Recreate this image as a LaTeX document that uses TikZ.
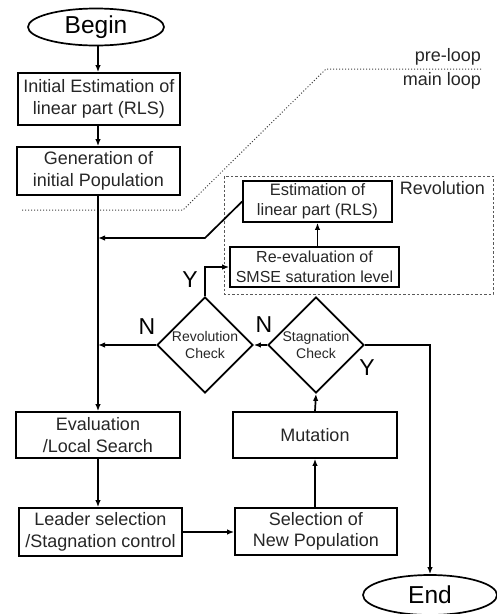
\documentclass[tikz,border=0pt]{standalone}
\usepackage{fontspec}
\setmainfont{Liberation Sans}
\usetikzlibrary{shapes.geometric,arrows.meta,calc}
\begin{document}
\begin{tikzpicture}[x=1pt,y=-1pt,
  line width=1.7pt,
  txt/.style={font=\fontsize{18}{21.5}\selectfont,text=black!85},
  procbox/.style={draw,txt,align=center,inner sep=0pt,line width=1.7pt},
  term/.style={draw,ellipse,inner sep=0pt,minimum width=136pt,minimum height=37pt,font=\fontsize{24.5}{28}\selectfont},
  check/.style={draw,diamond,inner sep=0pt,minimum width=96pt,minimum height=96pt,align=center,font=\fontsize{14}{17.5}\selectfont,text=black!85},
  yn/.style={font=\fontsize{23}{26}\selectfont},
  arr/.style={-{Latex[length=7pt,width=5.5pt]}},
  divider/.style={dotted,line width=1pt,black!75},
  revbox/.style={dashed,line width=0.8pt,black!65,dash pattern=on 2.5pt off 2pt}
]
\useasboundingbox (0,0) rectangle (497,614);

% region markers
\draw[revbox] (224,176) rectangle (493,294);
\node[txt,anchor=east] (revlbl) at (489,188) {Revolution};
\draw[divider] (22,210) -- (183,210) -- (326,69) -- (483,69);
\node[txt,anchor=east] (pre) at (485,57) {pre-loop};
\node[txt,anchor=east] (mainl) at (485,81) {main loop};

% nodes
\node[term] (begin) at (96,27) {Begin};
\node[procbox,minimum width=162pt,minimum height=52pt] (init) at (99,99) {Initial Estimation of\\linear part (RLS)};
\node[procbox,minimum width=163pt,minimum height=48pt] (gen) at (98.5,171) {Generation of\\initial Population};
\node[procbox,minimum width=149pt,minimum height=41pt,font=\fontsize{16.5}{20}\selectfont] (est) at (317.5,201.5) {Estimation of\\linear part (RLS)};
\node[procbox,minimum width=169pt,minimum height=40pt,font=\fontsize{16}{19.5}\selectfont] (reeval) at (314.5,267) {Re-evaluation of\\SMSE saturation level};
\node[check] (rev) at (205,345) {Revolution\\Check};
\node[check] (stag) at (316,345) {Stagnation\\Check};
\node[procbox,minimum width=164pt,minimum height=46pt] (eval) at (98,435) {Evaluation\\/Local Search};
\node[procbox,minimum width=163pt,minimum height=48pt] (leader) at (100.5,532) {Leader selection\\/Stagnation control};
\node[procbox,minimum width=164pt,minimum height=46pt] (mut) at (315,435) {Mutation};
\node[procbox,minimum width=162pt,minimum height=47pt] (sel) at (316,531.5) {Selection of\\New Population};
\node[term,minimum width=134pt,minimum height=40pt] (end) at (430,595) {End};

\coordinate (mx) at (98,0);
\coordinate (j1) at (98,238);
\coordinate (j2) at (98,345);
\coordinate (bend) at (205,238);

% connectors
\draw[arr] (begin.south -| mx) -- (init.north -| mx);
\draw[arr] (init.south -| mx) -- (gen.north -| mx);
\draw[arr] (gen.south -| mx) -- (eval.north -| mx);
\draw[arr] (eval.south -| mx) -- (leader.north -| mx);
\draw[arr] (est.west) -- (bend) -- (j1);
\draw[arr] (rev.west) -- (j2);
\draw[arr] (stag.west) -- (rev.east);
\draw[arr] (rev.north) |- (reeval.west);
\draw[arr] (reeval.north -| est.south) -- (est.south);
\draw[arr] (stag.east) -| (end.north);
\draw[arr] (leader.east) -- (sel.west |- leader.east);
\draw[arr] (sel.north -| mut.north) -- (mut.south);
\draw[arr] (mut.north) -- (stag.south);

% labels
\node[yn] (n1) at (147,327) {N};
\node[yn] (n2) at (264,325) {N};
\node[yn] (y1) at (190,280) {Y};
\node[yn] (y2) at (367,368) {Y};
\end{tikzpicture}
\end{document}
